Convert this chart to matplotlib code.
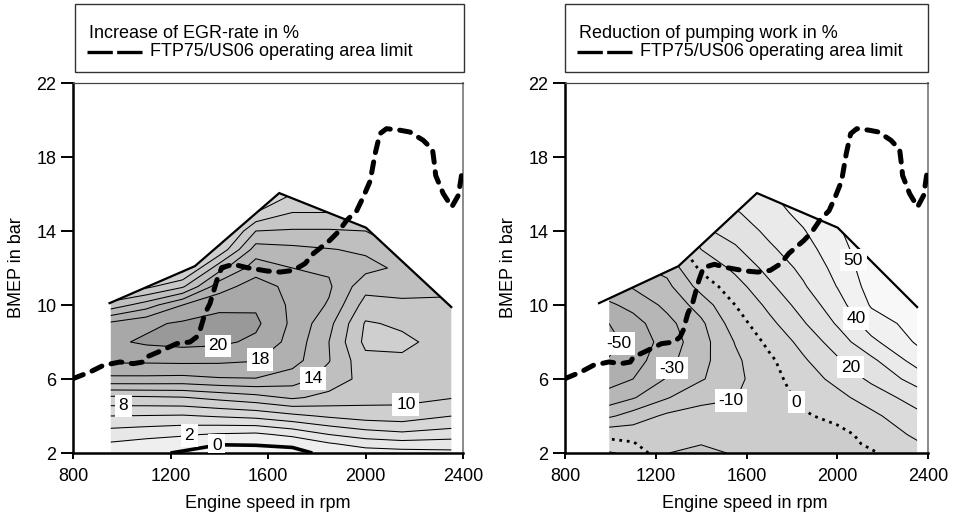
import numpy as np
import matplotlib
matplotlib.use('Agg')
import matplotlib.pyplot as plt
from matplotlib.patches import Polygon, Rectangle
from matplotlib.lines import Line2D

plt.rcParams['font.family'] = ['Liberation Sans', 'DejaVu Sans']

# ---------------- data ----------------
speed_grid = [950, 1100, 1250, 1400, 1550, 1700, 1850, 2000, 2150, 2355]
bmep_grid = [2, 2.5, 3, 4, 5, 6, 7, 8, 9, 10, 11, 12, 13, 14, 15, 16]

egr_increase = [
    [1.2, 0.6, -0.3, -0.8, -1.0, -0.6, 0.5, 1.0, 1.2, 1.5],
    [1.8, 1.3, 1.1, 0.1, 0.2, 0.4, 1.8, 2.8, 3.2, 3.0],
    [3.0, 2.6, 2.2, 1.8, 1.6, 2.5, 4.0, 5.0, 5.5, 5.0],
    [6.0, 5.9, 5.8, 6.2, 6.6, 7.5, 8.3, 8.9, 9.1, 8.0],
    [9.6, 9.7, 9.9, 10.6, 11.3, 12.3, 11.4, 10.8, 10.6, 10.1],
    [15.5, 15.5, 15.4, 15.8, 15.9, 15.0, 13.2, 11.3, 11.0, 10.6],
    [18.4, 18.4, 18.5, 18.4, 18.1, 16.8, 14.1, 10.6, 10.3, 10.8],
    [19.6, 20.3, 20.6, 20.4, 19.6, 17.3, 14.0, 9.5, 9.6, 10.8],
    [18.4, 19.6, 20.3, 21.0, 20.4, 17.6, 14.6, 9.8, 10.3, 10.6],
    [12.7, 15.0, 18.0, 19.3, 19.7, 17.6, 15.8, 11.2, 11.5, 11.6],
    [9.0, 9.5, 11.7, 17.2, 18.9, 17.4, 16.3, 12.7, 12.9, 12.5],
    [7.0, 7.0, 7.0, 13.2, 17.1, 16.0, 15.7, 14.6, 13.6, 12.0],
    [6.0, 6.0, 6.0, 8.5, 14.9, 14.5, 14.1, 13.7, 12.0, 11.0],
    [5.0, 5.0, 5.0, 6.0, 12.0, 12.2, 12.2, 12.0, 10.0, 10.0],
    [5.0, 5.0, 5.0, 5.0, 8.0, 10.0, 10.0, 10.0, 9.0, 9.0],
    [5.0, 5.0, 5.0, 5.0, 6.0, 8.0, 8.0, 8.0, 8.0, 8.0],
]

pumping_reduction = [
    [12, 8, -9.8, -13, -9, -4, -4, -4, -1, 6],
    [5, 1, -9, -9.6, -8.5, -4.5, -3.5, -3.5, 1.5, 9],
    [-2.6, -4, -8, -8, -7, -5, -3, -2.8, 3.0, 12.1],
    [-24.3, -15.5, -8.0, -8, -8, -5, -1.2, 2.6, 7.7, 17.4],
    [-37.8, -30.9, -20.8, -11.5, -10.3, -5, 2.3, 7.3, 14.3, 24.7],
    [-45.5, -40, -29.2, -21, -12.5, -4, 5.5, 12.6, 22, 34.3],
    [-51.5, -44.5, -33, -23, -12, -2, 8.6, 18.5, 27.7, 44.4],
    [-55, -47, -35.5, -24, -9.5, 2.4, 13.1, 24.8, 37.5, 51.5],
    [-52.5, -44, -33, -22, -4.8, 7.3, 19, 31, 45, 54],
    [-43.8, -36.9, -27.6, -15.6, 0, 12.5, 24, 35.7, 51, 56],
    [-35, -29, -22.5, -6.2, 5.9, 18, 28.8, 40.3, 54, 57],
    [-28, -22, -17, 2, 12.3, 23.2, 32.5, 43, 56, 58],
    [-22, -16, -10, 10, 18.5, 28.2, 35.9, 45.8, 57, 58],
    [-16, -10, -4, 18, 24, 32.3, 39.3, 48.6, 58, 58],
    [-10, -5, 2, 26, 29, 35.8, 43, 51, 58, 58],
    [-5, 0, 8, 34, 35, 39, 46, 53, 58, 58],
]

boundary_speed = [950, 1300, 1646, 2002, 2352]
boundary_bmep = [10.1, 12.1, 16.05, 14.18, 9.89]
egr_map_start = 955
pump_map_start = 995

limit_speed = [800, 870, 925, 993, 1047, 1088, 1102, 1150, 1225, 1280, 1307, 1321,
               1341, 1362, 1390, 1410, 1458, 1513, 1595, 1649, 1704, 1752, 1786,
               1854, 1888, 1923, 1964, 1991, 2019, 2040, 2059, 2086, 2140, 2182,
               2237, 2275, 2282, 2288, 2319, 2354, 2381, 2395, 2400]
limit_bmep = [6.02, 6.38, 6.74, 6.92, 6.83, 6.92, 7.19, 7.46, 7.91, 8.0, 8.27, 8.63,
              9.53, 10.08, 11.33, 12.02, 12.2, 12.02, 11.84, 11.78, 11.87, 12.24, 12.78,
              13.5, 13.95, 14.58, 15.1, 15.84, 16.7, 18.2, 19.26, 19.53, 19.45, 19.35,
              18.9, 18.4, 17.7, 17.0, 16.02, 15.3, 15.93, 17.1, 17.4]

x_ticks = [800, 1200, 1600, 2000, 2400]
y_ticks = [2, 6, 10, 14, 18, 22]

egr_levels = [0, 2, 4, 6, 8, 10, 12, 14, 16, 18, 20]
egr_fill_levels = [-6, 0, 2, 4, 6, 8, 10, 12, 14, 16, 18, 20, 26]
egr_label_levels = [2, 8, 10, 14, 18, 20]
pump_levels = [-60, -50, -40, -30, -20, -10, 0, 10, 20, 30, 40, 50, 60]
pump_fill_levels = [-70, -60, -50, -40, -30, -20, -10, 0, 10, 20, 30, 40, 50, 60, 70]
pump_label_levels = [-50, -30, -10, 20, 40, 50]

# label anchor points (layout)
egr_label_pos = [(1277, 3.0), (1006, 4.49), (2169, 4.4), (1786, 6.02), (1577, 6.96), (1396, 7.73)]
egr_zero_label_pos = [(1389, 2.47)]
pump_label_pos = [(1042, 7.9), (1277, 6.56), (1527, 5.03), (2041, 6.47), (2063, 9.17), (2063, 12.4)]
pump_zero_label_pos = [(1783, 4.49)]

W, H = 955, 519
fig = plt.figure(figsize=(W / 100, H / 100), dpi=100)


def gray_egr(v):
    return str(float(np.clip(0.952 - 0.0155 * v, 0.6, 0.96)))


def gray_pump(v):
    return str(float(np.clip(0.815 + 0.0029 * v, 0.62, 0.975)))


def style_labels(texts):
    for t in texts:
        t.set_rotation(0)
        t.set_bbox(dict(facecolor='white', edgecolor='none', pad=2.6))
        t.set_zorder(5)


def draw_panel(ax, values, start, levels, fill_levels, gray, zero_kw,
               label_levels, label_pos, zero_label_pos):
    X, Y = np.meshgrid(speed_grid, bmep_grid)
    Z = np.array(values, dtype=float)
    y0 = float(np.interp(start, boundary_speed, boundary_bmep))
    verts = [(start, 2), (start, y0)]
    verts += [(x, y) for x, y in zip(boundary_speed, boundary_bmep) if x > start]
    verts += [(boundary_speed[-1], 2)]
    clip = Polygon(verts, closed=True, transform=ax.transData,
                   facecolor='none', edgecolor='none')

    cols = [gray(0.5 * (a + b)) for a, b in zip(fill_levels[:-1], fill_levels[1:])]
    cf = ax.contourf(X, Y, Z, levels=fill_levels, colors=cols, zorder=1)
    cf.set_clip_path(clip)

    plain = [l for l in levels if l != 0 and l not in label_levels]
    line_kw = dict(colors='k', linewidths=0.75, linestyles='solid', zorder=2)
    cp = ax.contour(X, Y, Z, levels=plain, **line_kw)
    cp.set_clip_path(clip)
    cl = ax.contour(X, Y, Z, levels=label_levels, **line_kw)
    cl.set_clip_path(clip)
    cz = ax.contour(X, Y, Z, levels=[0], colors='k', zorder=2, **zero_kw)
    cz.set_clip_path(clip)

    t1 = ax.clabel(cl, manual=label_pos, inline=False,
                   fontsize=12.5, fmt='%d', colors='k')
    t2 = ax.clabel(cz, manual=zero_label_pos, inline=False,
                   fontsize=12.5, fmt='%d', colors='k')
    style_labels(list(t1) + list(t2))

    ax.plot(boundary_speed, boundary_bmep, color='k', lw=1.6, zorder=4,
            solid_joinstyle='miter')
    ax.plot(limit_speed, limit_bmep, color='k', lw=3.6, dashes=(2.2, 1.9),
            dash_capstyle='round', zorder=6)

    ax.set_xlim(800, 2400)
    ax.set_ylim(2, 22)
    ax.set_xticks(x_ticks)
    ax.set_yticks(y_ticks)
    ax.tick_params(axis='both', labelsize=13, direction='out', colors='k')
    ax.tick_params(axis='x', length=4.5, width=1.4, pad=6)
    ax.tick_params(axis='y', length=9, width=1.4, pad=3)
    for s in ('left', 'bottom'):
        ax.spines[s].set_linewidth(1.8)
        ax.spines[s].set_color('k')
    ax.spines['top'].set_linewidth(0.9)
    ax.spines['top'].set_color('#444444')
    ax.spines['right'].set_linewidth(1.4)
    ax.spines['right'].set_color('#8a8a8a')
    ax.set_xlabel('Engine speed in rpm', fontsize=13)
    ax.set_ylabel('BMEP in bar', fontsize=13)


def fx(px):
    return px / W


def fy(py):
    return 1 - py / H


ax1 = fig.add_axes([fx(73), fy(453), (463 - 73) / W, (453 - 83) / H])
ax2 = fig.add_axes([fx(565), fy(453), (928 - 565) / W, (453 - 83) / H])

draw_panel(ax1, egr_increase, egr_map_start, egr_levels, egr_fill_levels, gray_egr,
           dict(linewidths=2.6, linestyles='solid'),
           egr_label_levels, egr_label_pos, egr_zero_label_pos)
draw_panel(ax2, pumping_reduction, pump_map_start, pump_levels, pump_fill_levels, gray_pump,
           dict(linewidths=2.0, linestyles=[(0, (1.0, 1.7))]),
           pump_label_levels, pump_label_pos, pump_zero_label_pos)

ax1.yaxis.set_label_coords((25 - 73) / 390, 0.5)
ax1.xaxis.set_label_coords(0.5, (453 - 494.5) / 370)
ax2.yaxis.set_label_coords((517 - 565) / 363, 0.5)
ax2.xaxis.set_label_coords(0.496, (453 - 494.5) / 370)

# legend boxes
titles = ['Increase of EGR-rate in %', 'Reduction of pumping work in %']
boxes = [(75, 464), (565, 928)]
for (x0, x1), title in zip(boxes, titles):
    fig.add_artist(Rectangle((fx(x0), fy(72)), (x1 - x0) / W, 68 / H,
                             transform=fig.transFigure, facecolor='white',
                             edgecolor='#333333', lw=1.0))
    fig.text(fx(x0 + 14), fy(33), title, fontsize=13, va='center', ha='left')
    fig.add_artist(Line2D([fx(x0 + 12), fx(x0 + 67)], [fy(51.5), fy(51.5)],
                          transform=fig.transFigure, color='k', lw=2.4,
                          dashes=(7.6, 1.3)))
    fig.text(fx(x0 + 75), fy(51.5), 'FTP75/US06 operating area limit', fontsize=13,
             va='center', ha='left')

fig.savefig('out.png', dpi=100)
